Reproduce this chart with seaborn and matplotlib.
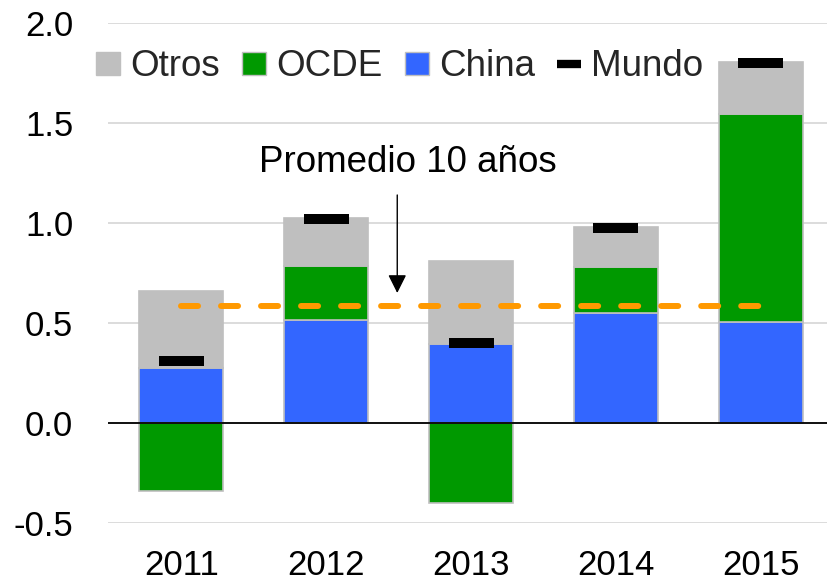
import matplotlib
matplotlib.use("Agg")
import matplotlib.pyplot as plt
from matplotlib.patches import Patch
from matplotlib.lines import Line2D
import seaborn as sns
import numpy as np
import pandas as pd

years = ["2011", "2012", "2013", "2014", "2015"]
china = [0.275, 0.513, 0.397, 0.552, 0.505]
ocde = [-0.34, 0.272, -0.40, 0.226, 1.042]
otros = [0.385, 0.238, 0.413, 0.200, 0.258]
mundo = [0.312, 1.020, 0.400, 0.977, 1.800]
promedio = 0.585
ytick_vals = [-0.5, 0.0, 0.5, 1.0, 1.5, 2.0]
ytick_labels = ["-0.5", "0.0", "0.5", "1.0", "1.5", "2.0"]

C_OTROS = "#BFBFBF"
C_OCDE = "#009900"
C_CHINA = "#3366FF"
C_AVG = "#FF9900"
EDGE = "#BFBFBF"

sns.set_theme(style="white")
plt.rcParams["font.family"] = ["Liberation Sans", "DejaVu Sans"]

china_a = np.array(china)
ocde_a = np.array(ocde)
otros_a = np.array(otros)
ocde_bottom = np.where(ocde_a > 0, china_a, 0.0)
otros_bottom = china_a + np.clip(ocde_a, 0, None)

df = pd.DataFrame({"year": years, "china": china, "ocde": ocde,
                   "otros": otros, "mundo": mundo})

fig = plt.figure(figsize=(8.27, 5.86), dpi=100)
ax = fig.add_axes([108 / 827, 1 - 523 / 586, 1 - 108 / 827, (523 - 23) / 586])

bw = 0.58
sns.barplot(data=df, x="year", y="china", color=C_CHINA, width=bw,
            edgecolor=EDGE, linewidth=1.2, saturation=1, ax=ax, zorder=3)
sns.barplot(data=df, x="year", y="ocde", color=C_OCDE, width=bw,
            edgecolor=EDGE, linewidth=1.2, saturation=1, ax=ax,
            bottom=ocde_bottom, zorder=3)
sns.barplot(data=df, x="year", y="otros", color=C_OTROS, width=bw,
            edgecolor=EDGE, linewidth=1.2, saturation=1, ax=ax,
            bottom=otros_bottom, zorder=3)

rect = [(-1, -0.22), (1, -0.22), (1, 0.22), (-1, 0.22), (-1, -0.22)]
sns.scatterplot(data=df, x="year", y="mundo", marker=rect, s=1050,
                color="black", edgecolor="none", ax=ax, zorder=5, legend=False)

# average line
ax.plot([0, len(years) - 1], [promedio, promedio], color=C_AVG, lw=4.3,
        dashes=(2.85, 3.85), dash_capstyle="round", zorder=6)

ax.axhline(0, color="black", lw=1.3, zorder=4)

ax.annotate("", xy=(1.49, 0.65), xytext=(1.49, 1.14),
            arrowprops=dict(arrowstyle="-|>", color="black", lw=1.0,
                            mutation_scale=28, shrinkA=0, shrinkB=0), zorder=7)
ax.text(1.565, 1.30, "Promedio 10 años", ha="center", va="center",
        fontsize=26.5, color="black", zorder=7)

ax.set_xlim(-0.507, 4.457)
ax.set_ylim(-0.5, 2.0)
ax.set_yticks(ytick_vals)
ax.set_yticklabels(ytick_labels)
ax.yaxis.grid(True, color="#D9D9D9", lw=1.3, zorder=0)
ax.set_axisbelow(True)
for s in ax.spines.values():
    s.set_visible(False)
ax.tick_params(axis="y", length=0, pad=25, labelsize=25, colors="black")
ax.tick_params(axis="x", length=0, pad=19, labelsize=25, colors="black")
ax.set_xlabel("")
ax.set_ylabel("")

handles = [Patch(facecolor=C_OTROS, edgecolor=EDGE),
           Patch(facecolor=C_OCDE, edgecolor=EDGE),
           Patch(facecolor=C_CHINA, edgecolor=EDGE),
           Line2D([], [], color="black", lw=6, solid_capstyle="butt")]
labels = ["Otros", "OCDE", "China", "Mundo"]
fig.legend(handles, labels, loc="center left",
           bbox_to_anchor=(96 / 827, 1 - 67 / 586), ncol=4, frameon=False,
           fontsize=26.5, handlelength=0.65, handleheight=0.6,
           handletextpad=0.28, columnspacing=0.6, borderpad=0,
           borderaxespad=0)

fig.savefig("out.png", dpi=100)
